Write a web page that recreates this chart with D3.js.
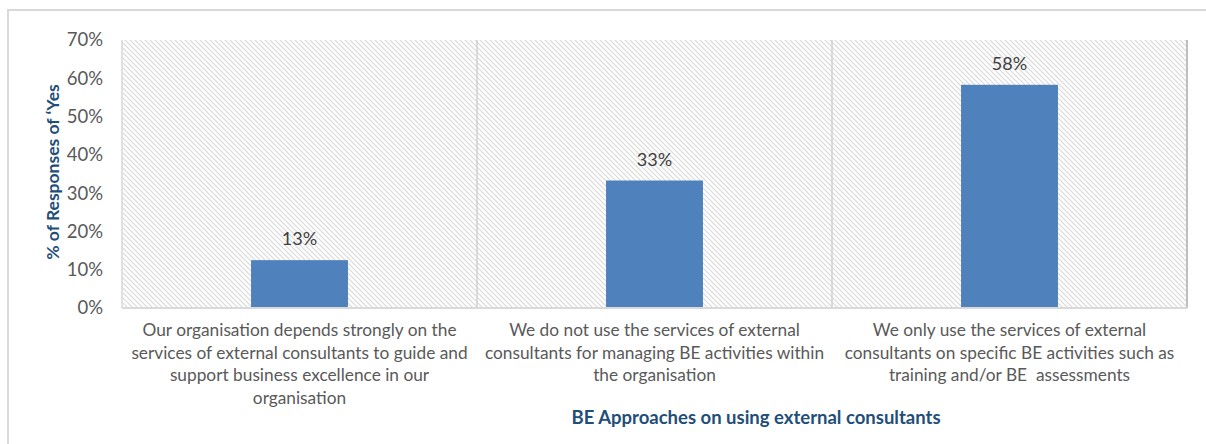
<!DOCTYPE html>
<html><head><meta charset="utf-8">
<script src="https://cdn.jsdelivr.net/npm/d3@7"></script>
<style>body{margin:0;background:#fff}svg{display:block}text{font-family:Lato,"Open Sans",sans-serif;white-space:pre}</style>
</head><body><svg id="c" width="1206" height="444"></svg>
<script>
const categories = [
  ["Our organisation depends strongly on the","services of external consultants to guide and","support business excellence in our","organisation"],
  ["We do not use the services of external","consultants for managing BE activities within","the organisation"],
  ["We only use the services of external","consultants on specific BE activities such as","training and/or BE  assessments"]
];
const values = [12.5, 33.3, 58.3];
const dataLabels = ["13%", "33%", "58%"];
const yTicks = [0,10,20,30,40,50,60,70];
const yTitle = "% of Responses of \u2018Yes";
const xTitle = "BE Approaches on using external consultants";

const svg = d3.select("#c");
const m = {l:122, r:1187, t:40, b:308};
const defs = svg.append("defs");
const pat = defs.append("pattern").attr("id","hatch").attr("patternUnits","userSpaceOnUse")
  .attr("width",5).attr("height",5);
pat.append("rect").attr("width",5).attr("height",5).attr("fill","#fff");
pat.append("path").attr("d","M-1,-1 L6,6 M-1,4 L1,6 M4,-1 L6,1").attr("stroke","#dadada").attr("stroke-width",1.2);

svg.append("rect").attr("x",8).attr("y",10).attr("width",1230).attr("height",460)
  .attr("fill","none").attr("stroke","#d9d9d9").attr("stroke-width",2);

const idx = d3.range(categories.length);
const x = d3.scaleBand().domain(idx).range([m.l,m.r]).paddingInner(0).paddingOuter(0);
const y = d3.scaleLinear().domain([0,70]).range([m.b,m.t]);

svg.append("rect").attr("x",m.l).attr("y",m.t).attr("width",m.r-m.l).attr("height",m.b-m.t).attr("fill","url(#hatch)");

svg.selectAll("line.sep").data(idx.slice(1)).join("line").attr("class","sep")
  .attr("x1",d=>x(d)).attr("x2",d=>x(d)).attr("y1",m.t).attr("y2",m.b)
  .attr("stroke","#d0d0d0").attr("stroke-width",1.5);
svg.append("line").attr("x1",m.l).attr("x2",m.l).attr("y1",m.t).attr("y2",m.b).attr("stroke","#d9d9d9").attr("stroke-width",1.5);
svg.append("line").attr("x1",m.r).attr("x2",m.r).attr("y1",m.t).attr("y2",m.b).attr("stroke","#bfbfbf").attr("stroke-width",2);

const bw = x.bandwidth()*0.273;
svg.selectAll("rect.bar").data(values).join("rect").attr("class","bar")
  .attr("x",(d,i)=>x(i)+x.bandwidth()/2-bw/2).attr("width",bw)
  .attr("y",d=>y(d)).attr("height",d=>y(0)-y(d)).attr("fill","#4f81bd");

svg.append("line").attr("x1",m.l).attr("x2",m.r).attr("y1",m.b).attr("y2",m.b).attr("stroke","#d9d9d9").attr("stroke-width",2);

svg.selectAll("text.dl").data(values).join("text").attr("class","dl")
  .attr("x",(d,i)=>x(i)+x.bandwidth()/2).attr("y",d=>y(d)-15)
  .attr("text-anchor","middle").attr("font-size",18).attr("fill","#404040")
  .text((d,i)=>dataLabels[i]);

const yAxis = d3.axisLeft(y).tickValues(yTicks).tickSize(0).tickPadding(19).tickFormat(d=>d+"%");
const ga = svg.append("g").attr("transform",`translate(${m.l},0)`).call(yAxis);
ga.select(".domain").remove();
ga.selectAll("text").attr("font-size",18.5).attr("fill","#595959").attr("font-family","Lato,sans-serif");

const cl = svg.selectAll("text.cat").data(categories).join("text").attr("class","cat")
  .attr("text-anchor","middle").attr("font-size",17.3).attr("fill","#595959");
cl.each(function(lines,i){
  d3.select(this).selectAll("tspan").data(lines).join("tspan")
    .attr("x",x(i)+x.bandwidth()/2).attr("y",(d,j)=>336+j*22.7).text(d=>d);
});

svg.append("text").attr("x",756).attr("y",424).attr("text-anchor","middle")
  .attr("font-size",18.5).attr("font-weight","bold").attr("fill","#1f4e79").text(xTitle);
svg.append("text").attr("transform","translate(59,172) rotate(-90)").attr("text-anchor","middle")
  .attr("font-size",17.5).attr("font-weight","bold").attr("fill","#1f4e79").text(yTitle);
</script></body></html>
